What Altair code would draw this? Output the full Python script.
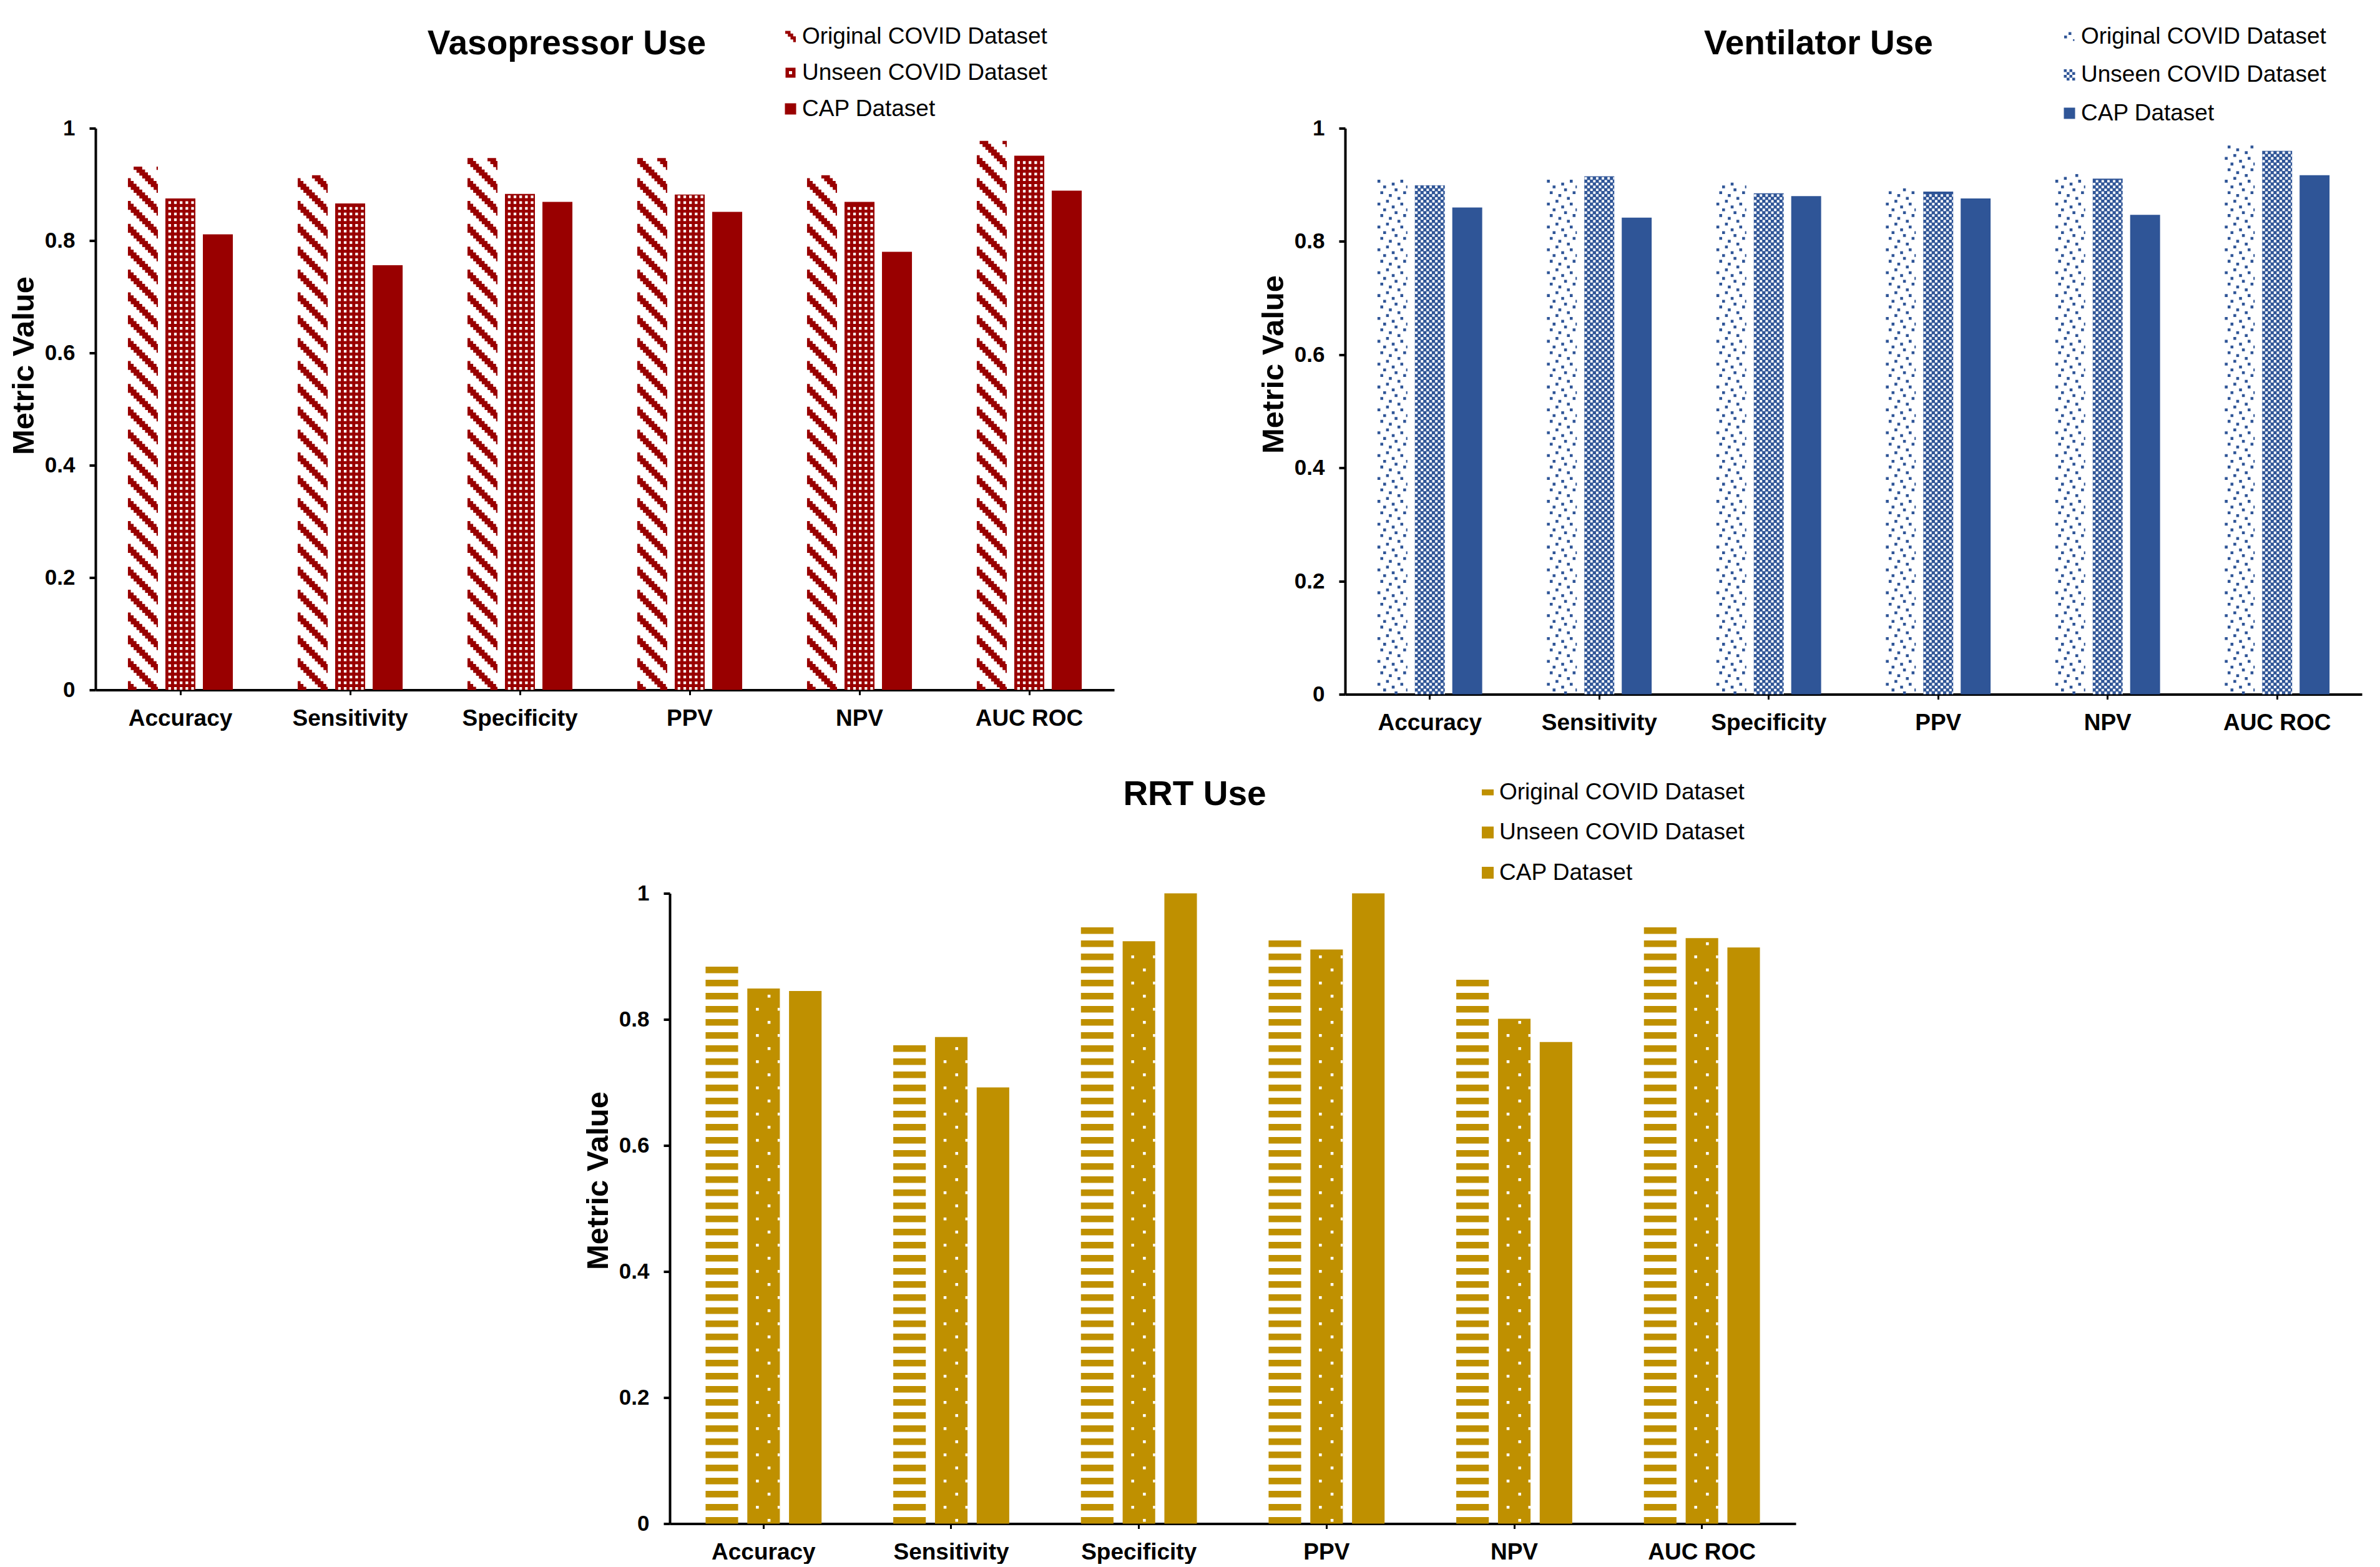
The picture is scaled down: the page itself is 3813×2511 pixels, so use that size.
import altair as alt
import pandas as pd

# ---------------- data ----------------
metrics = ["Accuracy", "Sensitivity", "Specificity", "PPV", "NPV", "AUC ROC"]
datasets = ["Original COVID Dataset", "Unseen COVID Dataset", "CAP Dataset"]

vaso_original = [0.934, 0.919, 0.950, 0.950, 0.917, 0.979]
vaso_unseen = [0.875, 0.866, 0.883, 0.882, 0.869, 0.951]
vaso_cap = [0.811, 0.756, 0.869, 0.851, 0.780, 0.889]

vent_original = [0.909, 0.912, 0.906, 0.897, 0.920, 0.971]
vent_unseen = [0.899, 0.915, 0.885, 0.888, 0.911, 0.960]
vent_cap = [0.860, 0.842, 0.880, 0.876, 0.847, 0.917]

rrt_original = [0.892, 0.765, 0.966, 0.927, 0.876, 0.959]
rrt_unseen = [0.849, 0.772, 0.924, 0.911, 0.801, 0.929]
rrt_cap = [0.845, 0.692, 1.000, 1.000, 0.764, 0.914]

y_ticks = [0, 0.2, 0.4, 0.6, 0.8, 1]

# ---------------- style ----------------
RED, BLUE, GOLD = "#990000", "#2F5597", "#BF9000"
FONT = "Liberation Sans"
PI, PO = 0.382, 0.191


def band_width(width, opi):
    step = width / (len(metrics) - PI + 2 * PO)
    band = step * (1 - PI)
    ostep = band / (len(datasets) - opi)
    return ostep * (1 - opi)


def rect(x0, x1, y0, y1, W, h, ov=0.0):
    a = max(0.0, x0)
    b = min(W, x1)
    if b - a < 0.1:
        return ""
    X0, X1 = a - W / 2, b - W / 2
    T, B = h / 2 - y1 - ov, h / 2 - y0 + ov
    return f"M{X0:.2f},{T:.2f}L{X1:.2f},{T:.2f}L{X1:.2f},{B:.2f}L{X0:.2f},{B:.2f}Z"


def runs(cols):
    out = []
    for c in sorted(cols):
        if out and c == out[-1][1]:
            out[-1][1] = c + 1
        else:
            out.append([c, c + 1])
    return out


def pat_diag(W, p, k=8, on=3):
    n = int(W / p) + 2
    rows = []
    for i in range(k):
        cols = [c for c in range(-1, n) if (c + i) % k < on]
        rows.append("".join(rect(s * p, e * p, 0, p, W, p, 0.3) for s, e in runs(cols)))
    return p, rows


def pat_holes(W, p, inset=0.15):
    n = int(W / p) + 2
    row0 = "".join(rect(c * p + inset, (c + 1) * p - inset, inset, p - inset, W, p)
                   for c in range(1, n, 2))
    return p, [row0, ""]


def pat_dots(W, p, order=(6, 2, 5, 0, 3, 7, 4, 1)):
    n = int(W / p) + 2
    rows = []
    for col in order:
        cells = [col + 8 * m for m in range(0, n // 8 + 2) if col + 8 * m < n]
        rows.append("".join(rect(c * p, (c + 1) * p, 0, p, W, p) for c in cells))
    return p, rows


def pat_checker(W, p, frac=0.85):
    n = int(W / p) + 2
    ins = p * (1 - frac) / 2
    rows = []
    for i in range(2):
        rows.append("".join(rect(c * p + ins, (c + 1) * p - ins, ins, p - ins, W, p)
                            for c in range(0, n) if (c + i) % 2 == 0))
    return p, rows


def pat_hstripes(W, h):
    return h, [rect(0, W, 0, h, W, h), ""]


def pat_sparse(W, h, d=4.6, rowA=(34.8,), rowB=(16.1, 50.9)):
    def row(xs):
        return "".join(rect(x - d / 2, x + d / 2, h / 2 - d / 2, h / 2 + d / 2, W, h) for x in xs)
    return h, [row(rowA), "", row(rowB), ""]


def upath(rects, s, hole=None):
    parts = []
    for x0, y0, x1, y1 in rects:
        parts.append(f"M{x0/s:.3f},{y0/s:.3f}L{x1/s:.3f},{y0/s:.3f}L{x1/s:.3f},{y1/s:.3f}L{x0/s:.3f},{y1/s:.3f}Z")
    if hole:
        x0, y0, x1, y1 = hole
        parts.append(f"M{x0/s:.3f},{y0/s:.3f}L{x0/s:.3f},{y1/s:.3f}L{x1/s:.3f},{y1/s:.3f}L{x1/s:.3f},{y0/s:.3f}Z")
    return "".join(parts)


def panel(title, orig, unseen, cap, color, width, height, pats, opi,
          title_dx, title_off, ytitle_y, leg_x, leg_y, leg_pad, sym_size, sym_shapes):
    df = pd.DataFrame({
        "metric": metrics * 3,
        "dataset": [d for d in datasets for _ in metrics],
        "value": orig + unseen + cap,
    })
    W = band_width(width, opi)
    xscale = alt.Scale(domain=metrics, paddingInner=PI, paddingOuter=PO, round=False)
    xoscale = alt.Scale(domain=datasets, paddingInner=opi, paddingOuter=0, round=False)
    yscale = alt.Scale(domain=[0, 1], nice=False, zero=True)
    cscale = alt.Scale(domain=datasets, range=[color] * 3)

    xaxis = alt.Axis(title=None, labelAngle=0, tickSize=8, tickWidth=3, domainWidth=4,
                     labelPadding=20, bandPosition=0.5, labelFontSize=37, labelLimit=0)
    yaxis = alt.Axis(values=y_ticks, format="~g", title="Metric Value", tickSize=10, tickWidth=4,
                     domainWidth=4, labelPadding=23, titlePadding=8, titleY=ytitle_y,
                     labelFontSize=35)

    legend = alt.Legend(
        title=None, orient="none", legendX=leg_x, legendY=leg_y, direction="vertical",
        labelFont=FONT, labelFontSize=37, labelColor="black", labelOffset=0, labelLimit=0,
        symbolSize=sym_size, symbolType="square", symbolStrokeWidth=0, symbolOpacity=1,
        rowPadding=leg_pad, padding=0,
    )

    def xenc():
        return alt.X("metric:N", scale=xscale, axis=xaxis)

    def xoenc():
        return alt.XOffset("dataset:N", scale=xoscale)

    bars = alt.Chart(df).transform_filter(alt.datum.dataset != datasets[0]).mark_bar(strokeWidth=0).encode(
        x=xenc(), xOffset=xoenc(),
        y=alt.Y("value:Q", scale=yscale, axis=yaxis),
        color=alt.Color("dataset:N", scale=cscale, legend=legend),
    )

    # legend-only layer (no rows), carries per-entry symbol shapes
    leg_layer = alt.Chart(df).transform_filter("false").mark_point(
        filled=True, opacity=1, strokeWidth=0
    ).encode(
        x=xenc(), xOffset=xoenc(),
        y=alt.Y("value:Q", scale=yscale, axis=yaxis),
        color=alt.Color("dataset:N", scale=cscale, legend=legend),
        shape=alt.Shape("dataset:N", scale=alt.Scale(domain=datasets, range=sym_shapes), legend=legend),
    )

    layers = [bars]
    for ds, (pfun, pcolor) in zip(datasets[:2], pats):
        h, paths = pfun(W)
        k = len(paths)
        for i, pth in enumerate(paths):
            if not pth:
                continue
            lay = alt.Chart(df).transform_filter(alt.datum.dataset == ds).transform_calculate(
                k_row=f"sequence(0, floor(datum.value * {height} / {h} + 0.000001))"
            ).transform_flatten(["k_row"]).transform_filter(
                f"datum.k_row % {k} == {i}"
            ).transform_calculate(
                yc=f"(datum.k_row + 0.5) * {h} / {height}",
            ).mark_point(filled=True, opacity=1, size=4, strokeWidth=0, color=pcolor, shape=pth).encode(
                x=xenc(), xOffset=xoenc(),
                y=alt.Y("yc:Q", scale=yscale, axis=yaxis),
            )
            layers.append(lay)
    layers.append(leg_layer)

    return alt.layer(*layers).properties(
        width=width, height=height,
        title=alt.TitleParams(text=title, font=FONT, fontSize=55, fontWeight="bold", color="black",
                              anchor="middle", frame="group", offset=title_off, dx=title_dx,
                              baseline="alphabetic"),
    )


P_TOP = 4.58
H_BOT = 10.5

# legend symbol shapes
s9 = 9.0
vaso_syms = [
    upath([(-8.5, -9, 0, -4.2), (-4.25, -4.8, 4.25, 0.3), (0, -0.3, 8.5, 4.8), (4.25, 4.2, 8.5, 9)], s9),
    upath([(-8, -8, 8, 8)], s9, hole=(-2.5, -2.5, 2.5, 2.5)),
    "square",
]
checker = [(-9 + c * 4.5, -9 + r * 4.5, -9 + (c + 1) * 4.5, -9 + (r + 1) * 4.5)
           for r in range(4) for c in range(4) if (r + c) % 2 == 0]
vent_syms = [
    upath([(-1.5, -7, 3, -2.5), (-8.5, -1.5, -4, 3), (5.5, 4.5, 8, 7)], s9),
    upath(checker, s9),
    "square",
]
s95 = 9.5
rrt_syms = [upath([(-9.5, -4.5, 9.5, 5)], s95), "square", "square"]

tl = panel("Vasopressor Use", vaso_original, vaso_unseen, vaso_cap, RED, 1632, 900,
           [(lambda W: pat_diag(W, P_TOP), RED), (lambda W: pat_holes(W, P_TOP), "white")], 0.2,
           title_dx=-61, title_off=-101.5, ytitle_y=380, leg_x=1095, leg_y=-165.5, leg_pad=20,
           sym_size=324, sym_shapes=vaso_syms)

tr = panel("Ventilator Use", vent_original, vent_unseen, vent_cap, BLUE, 1629, 907,
           [(lambda W: pat_dots(W, P_TOP), BLUE), (lambda W: pat_checker(W, P_TOP), "white")], 0.2,
           title_dx=-56, title_off=-101.5, ytitle_y=378, leg_x=1142, leg_y=-165.5, leg_pad=23.5,
           sym_size=324, sym_shapes=vent_syms)

bt = panel("RRT Use", rrt_original, rrt_unseen, rrt_cap, GOLD, 1804, 1010,
           [(lambda W: pat_hstripes(W, H_BOT), GOLD), (lambda W: pat_sparse(W, H_BOT), "white")], 0.22,
           title_dx=-61, title_off=-93.5, ytitle_y=460, leg_x=1292, leg_y=-180.5, leg_pad=26.5,
           sym_size=361, sym_shapes=rrt_syms)

# invisible spacer that shifts the bottom panel to the right
SPACER_W = 920
spacer = alt.Chart(pd.DataFrame({"s": [0]})).mark_rule(strokeOpacity=0, strokeWidth=1).encode(
    x=alt.value(0), x2=alt.value(SPACER_W), y=alt.value(5)
).properties(width=SPACER_W, height=10)

RES = dict(color="independent", shape="independent", xOffset="independent")

top = alt.hconcat(tl, tr, spacing=370, bounds="flush").resolve_scale(**RES).resolve_legend(
    color="independent", shape="independent")
bottom = alt.hconcat(spacer, bt, spacing=0, bounds="flush").resolve_scale(**RES).resolve_legend(
    color="independent", shape="independent")

chart = alt.vconcat(top, bottom, spacing=69).resolve_scale(**RES).resolve_legend(
    color="independent", shape="independent"
).properties(
    padding={"left": 14, "top": 39.5, "right": 5, "bottom": 0}, background="white"
).configure_view(stroke=None).configure_axis(
    grid=False, domainColor="black", tickColor="black", labelColor="black", titleColor="black",
    labelFont=FONT, titleFont=FONT, labelFontWeight="bold", titleFontWeight="bold", titleFontSize=49,
)

chart.save("out.html", embed_options={"renderer": "svg", "actions": False})
